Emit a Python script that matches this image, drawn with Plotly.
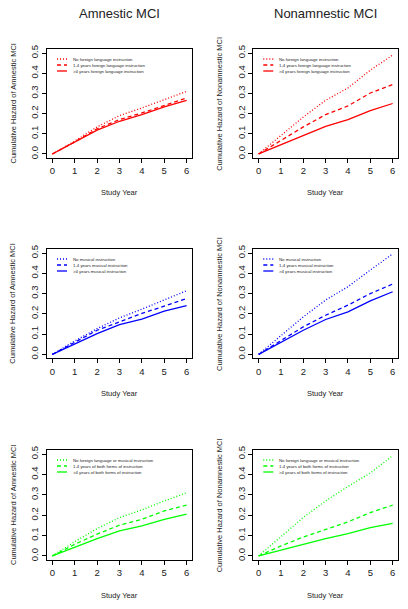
import plotly.graph_objects as go

# ---------------- data ----------------
years = [0, 1, 2, 3, 4, 5, 6]

amn_lang_none = [0, 0.064, 0.134, 0.190, 0.228, 0.270, 0.310]
amn_lang_1to4 = [0, 0.060, 0.125, 0.170, 0.203, 0.240, 0.278]
amn_lang_gt4 = [0, 0.058, 0.118, 0.162, 0.195, 0.233, 0.266]
non_lang_none = [0, 0.093, 0.183, 0.266, 0.327, 0.415, 0.490]
non_lang_1to4 = [0, 0.068, 0.134, 0.195, 0.238, 0.302, 0.344]
non_lang_gt4 = [0, 0.046, 0.093, 0.137, 0.170, 0.215, 0.250]

amn_mus_none = [0, 0.066, 0.127, 0.180, 0.223, 0.268, 0.314]
amn_mus_1to4 = [0, 0.061, 0.119, 0.160, 0.202, 0.238, 0.276]
amn_mus_gt4 = [0, 0.053, 0.102, 0.147, 0.174, 0.213, 0.240]
non_mus_none = [0, 0.094, 0.185, 0.268, 0.334, 0.416, 0.496]
non_mus_1to4 = [0, 0.070, 0.136, 0.193, 0.243, 0.300, 0.347]
non_mus_gt4 = [0, 0.061, 0.119, 0.172, 0.210, 0.264, 0.309]

amn_both_none = [0, 0.070, 0.134, 0.188, 0.226, 0.270, 0.310]
amn_both_1to4 = [0, 0.057, 0.107, 0.151, 0.180, 0.221, 0.249]
amn_both_gt4 = [0, 0.044, 0.085, 0.123, 0.148, 0.180, 0.205]
non_both_none = [0, 0.095, 0.189, 0.270, 0.341, 0.407, 0.492]
non_both_1to4 = [0, 0.049, 0.093, 0.131, 0.167, 0.213, 0.249]
non_both_gt4 = [0, 0.030, 0.057, 0.085, 0.110, 0.139, 0.160]

lang_labels = ["No foreign language instruction",
               "1-4 years foreign language instruction",
               ">4 years foreign language instruction"]
mus_labels = ["No musical instruction",
              "1-4 years musical instruction",
              ">4 years musical instruction"]
both_labels = ["No foreign language or musical instruction",
               "1-4 years of both forms of instruction",
               ">4 years of both forms of instruction"]

col_titles = ["Amnestic MCI", "Nonamnestic MCI"]
y_titles = ["Cumulative Hazard of Amnestic MCI", "Cumulative Hazard of Nonamnestic MCI"]
x_title = "Study Year"
x_ticks = [0, 1, 2, 3, 4, 5, 6]
y_ticks = [0.0, 0.1, 0.2, 0.3, 0.4, 0.5]
y_ticklabels = ["0.0", "0.1", "0.2", "0.3", "0.4", "0.5"]

panels = [
    # (row, col, series, labels, color)
    (0, 0, [amn_lang_none, amn_lang_1to4, amn_lang_gt4], lang_labels, "#FF0000"),
    (0, 1, [non_lang_none, non_lang_1to4, non_lang_gt4], lang_labels, "#FF0000"),
    (1, 0, [amn_mus_none, amn_mus_1to4, amn_mus_gt4], mus_labels, "#0000FF"),
    (1, 1, [non_mus_none, non_mus_1to4, non_mus_gt4], mus_labels, "#0000FF"),
    (2, 0, [amn_both_none, amn_both_1to4, amn_both_gt4], both_labels, "#00FF00"),
    (2, 1, [non_both_none, non_both_1to4, non_both_gt4], both_labels, "#00FF00"),
]

# ---------------- layout geometry (pixels) ----------------
W, H = 408, 609
col_px = [(47, 192), (253.3, 398)]
row_px = [(49, 158), (249, 358.4), (450, 560)]
XR = [-0.24, 6.24]
YR = [-0.02, 0.52]
dashes = ["1px,2px", "4px,3px", "solid"]
FONT = "Liberation Sans, Arial, Helvetica, sans-serif"
AXC = "black"

fig = go.Figure()
layout = dict(
    width=W, height=H,
    margin=dict(l=0, r=0, t=0, b=0, pad=0),
    paper_bgcolor="white", plot_bgcolor="white",
    showlegend=False,
    font=dict(family=FONT, color="#222222"),
)
annotations = []
shapes = []

for i, (r, c, series, labels, color) in enumerate(panels):
    n = "" if i == 0 else str(i + 1)
    xa, ya = "x" + n, "y" + n
    x0, x1 = col_px[c]
    y0, y1 = row_px[r]
    layout["xaxis" + n] = dict(
        domain=[x0 / W, x1 / W], anchor=ya, range=XR,
        tickvals=x_ticks, ticks="outside", ticklen=4, tickwidth=1, tickcolor=AXC,
        showline=True, linecolor=AXC, linewidth=1, mirror=True,
        showgrid=False, zeroline=False, tickfont=dict(size=9.5, family=FONT),
        fixedrange=True, automargin=False,
    )
    layout["yaxis" + n] = dict(
        domain=[1 - y1 / H, 1 - y0 / H], anchor=xa, range=YR,
        tickvals=y_ticks, ticktext=y_ticklabels, tickangle=-90,
        ticks="outside", ticklen=4, tickwidth=1, tickcolor=AXC,
        showline=True, linecolor=AXC, linewidth=1, mirror=True,
        showgrid=False, zeroline=False, tickfont=dict(size=9.5, family=FONT),
        fixedrange=True, automargin=False,
    )
    for s, lab, d in zip(series, labels, dashes):
        fig.add_trace(go.Scatter(
            x=years, y=s, mode="lines", name=lab,
            line=dict(color=color, width=1.3, dash=d),
            xaxis=xa, yaxis=ya, showlegend=False,
        ))
    # legend (drawn inside the panel, R-style)
    bw = x1 - x0
    bh = y1 - y0
    for k, (lab, d) in enumerate(zip(labels, dashes)):
        yy = 1 - (10 + 6 * k) / bh
        shapes.append(dict(
            type="line", xref=xa + " domain", yref=ya + " domain",
            x0=10 / bw, x1=20 / bw, y0=yy, y1=yy,
            line=dict(color=color, width=1.3, dash=d),
        ))
        annotations.append(dict(
            text=lab, xref=xa + " domain", yref=ya + " domain",
            x=24 / bw, y=yy, xanchor="left", yanchor="middle", showarrow=False,
            font=dict(size=4.3, family=FONT, color="#222222"),
        ))
    # x axis title
    annotations.append(dict(
        text=x_title, xref="paper", yref="paper",
        x=(x0 + x1) / 2 / W, y=1 - (y1 + 35) / H, xanchor="center", yanchor="middle",
        showarrow=False, font=dict(size=7.5, family=FONT),
    ))
    # y axis title
    annotations.append(dict(
        text=y_titles[c], xref="paper", yref="paper", textangle=-90,
        x=(x0 - 34) / W, y=1 - (y0 + y1) / 2 / H, xanchor="center", yanchor="middle",
        showarrow=False, font=dict(size=7.5, family=FONT),
    ))
    # column titles
    if r == 0:
        annotations.append(dict(
            text=col_titles[c], xref="paper", yref="paper",
            x=(x0 + x1) / 2 / W, y=1 - 14 / H, xanchor="center", yanchor="middle",
            showarrow=False, font=dict(size=13, family=FONT),
        ))

layout["annotations"] = annotations
layout["shapes"] = shapes
fig.update_layout(**layout)
fig.write_html(
    "out.html",
    config={"displayModeBar": False},
    post_script="document.body.style.margin='0';document.body.style.overflow='hidden';",
)
